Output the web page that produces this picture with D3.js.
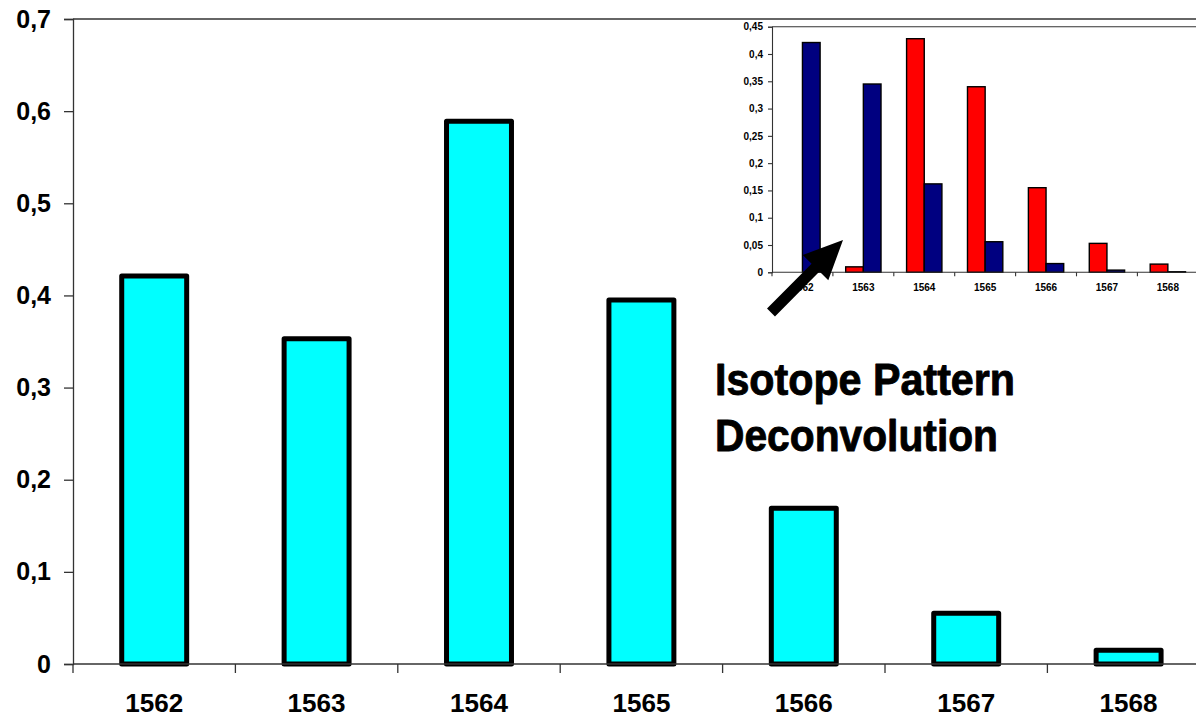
<!DOCTYPE html>
<html>
<head>
<meta charset="utf-8">
<script src="https://cdn.jsdelivr.net/npm/d3@7"></script>
<style>
  html, body { margin: 0; padding: 0; background: #fff; }
  svg { display: block; }
  text { font-family: "Liberation Sans", Arial, sans-serif; font-weight: bold; fill: #000; }
</style>
</head>
<body>
<svg id="chart" width="1196" height="718"></svg>
<script>
// ---- data ----
const categories = ["1562", "1563", "1564", "1565", "1566", "1567", "1568"];
const mainValues = [0.421, 0.353, 0.589, 0.395, 0.169, 0.055, 0.015];
const mainTicks = [0, 0.1, 0.2, 0.3, 0.4, 0.5, 0.6, 0.7];

const insetSeries = ["red", "blue"];
const insetRed  = [0.0, 0.010, 0.428, 0.340, 0.155, 0.053, 0.015];
const insetBlue = [0.421, 0.345, 0.162, 0.056, 0.016, 0.004, 0.001];
const insetTicks = [0, 0.05, 0.1, 0.15, 0.2, 0.25, 0.3, 0.35, 0.4, 0.45];

const titleLines = ["Isotope Pattern", "Deconvolution"];

// ---- helpers ----
const fmt = v => String(+v.toFixed(2)).replace(".", ",");
const svg = d3.select("#chart");

// ================= MAIN CHART =================
const mLeft = 73, mTop = 19, mBottom = 664, mStep = 162.4;
const xMain = d3.scaleBand().domain(categories)
  .range([mLeft, mLeft + mStep * categories.length])
  .paddingInner(0.6).paddingOuter(0.3);
const yMain = d3.scaleLinear().domain([0, 0.7]).range([mBottom, mTop]);

const main = svg.append("g");
main.append("line").attr("x1", mLeft).attr("x2", 1196)
  .attr("y1", mTop).attr("y2", mTop).attr("stroke", "#333").attr("stroke-width", 1.3);

main.selectAll("rect.bar").data(categories).join("rect")
  .attr("class", "bar")
  .attr("x", d => xMain(d))
  .attr("width", xMain.bandwidth())
  .attr("y", (d, i) => yMain(mainValues[i]))
  .attr("height", (d, i) => mBottom - yMain(mainValues[i]))
  .attr("fill", "#00FFFF").attr("stroke", "#000").attr("stroke-width", 5)
  .attr("stroke-linejoin", "round");

const yAxisMain = d3.axisLeft(yMain).tickValues(mainTicks).tickFormat(fmt).tickSize(9).tickPadding(13);
const gy = main.append("g").attr("transform", `translate(${mLeft},0)`).call(yAxisMain);
gy.select(".domain").attr("stroke", "#333").attr("stroke-width", 1.3);
gy.selectAll(".tick line").attr("stroke", "#333").attr("stroke-width", 1.3);
gy.selectAll(".tick text").style("font-size", "25px").style("font-weight", "bold")
  .style("font-family", "'Liberation Sans', Arial, sans-serif").attr("fill", "#000");

main.append("line").attr("x1", mLeft).attr("x2", 1196)
  .attr("y1", mBottom).attr("y2", mBottom).attr("stroke", "#333").attr("stroke-width", 1.3);
const boundsMain = categories.map(c => xMain(c) - xMain.step() * xMain.paddingInner() / 2);
main.selectAll("line.xtick").data(boundsMain).join("line").attr("class", "xtick")
  .attr("x1", d => d).attr("x2", d => d).attr("y1", mBottom).attr("y2", mBottom + 9)
  .attr("stroke", "#333").attr("stroke-width", 1.3);
main.selectAll("text.xlab").data(categories).join("text").attr("class", "xlab")
  .attr("x", d => xMain(d) + xMain.bandwidth() / 2).attr("y", 712)
  .attr("text-anchor", "middle").style("font-size", "25px")
  .attr("textLength", 58).attr("lengthAdjust", "spacingAndGlyphs").text(d => d);

// ================= INSET CHART =================
const iLeft = 772, iTop = 26.7, iBottom = 272.3, iStep = 60.9;
const xIn = d3.scaleBand().domain(categories)
  .range([iLeft, iLeft + iStep * categories.length])
  .paddingInner(0.42).paddingOuter(0.21);
const xSub = d3.scaleBand().domain(insetSeries).range([0, xIn.bandwidth()]);
const yIn = d3.scaleLinear().domain([0, 0.45]).range([iBottom, iTop]);
const inset = svg.append("g");

inset.append("line").attr("x1", iLeft).attr("x2", 1196)
  .attr("y1", iTop).attr("y2", iTop).attr("stroke", "#333").attr("stroke-width", 1.1);

const insetData = [];
categories.forEach((c, i) => {
  insetData.push({ cat: c, s: "red", v: insetRed[i] });
  insetData.push({ cat: c, s: "blue", v: insetBlue[i] });
});
const colors = { red: "#FF0000", blue: "#000080" };
inset.selectAll("rect.ibar").data(insetData).join("rect").attr("class", "ibar")
  .attr("x", d => xIn(d.cat) + xSub(d.s))
  .attr("width", xSub.bandwidth())
  .attr("y", d => yIn(d.v))
  .attr("height", d => iBottom - yIn(d.v))
  .attr("fill", d => colors[d.s]).attr("stroke", "#000").attr("stroke-width", 1.4);

const yAxisIn = d3.axisLeft(yIn).tickValues(insetTicks).tickFormat(fmt).tickSize(4).tickPadding(5);
const giy = inset.append("g").attr("transform", `translate(${iLeft},0)`).call(yAxisIn);
giy.select(".domain").attr("stroke", "#333").attr("stroke-width", 1.1);
giy.selectAll(".tick line").attr("stroke", "#333").attr("stroke-width", 1.1);
giy.selectAll(".tick text").style("font-size", "10px").style("font-weight", "bold")
  .style("font-family", "'Liberation Sans', Arial, sans-serif").attr("fill", "#222");

inset.append("line").attr("x1", iLeft).attr("x2", 1196)
  .attr("y1", iBottom).attr("y2", iBottom).attr("stroke", "#333").attr("stroke-width", 1.1);
const boundsIn = categories.map(c => xIn(c) - xIn.step() * xIn.paddingInner() / 2);
inset.selectAll("line.ixtick").data(boundsIn).join("line").attr("class", "ixtick")
  .attr("x1", d => d).attr("x2", d => d).attr("y1", iBottom).attr("y2", iBottom + 4)
  .attr("stroke", "#333").attr("stroke-width", 1.1);
inset.selectAll("text.ixlab").data(categories).join("text").attr("class", "ixlab")
  .attr("x", d => xIn(d) + xIn.bandwidth() / 2).attr("y", 291)
  .attr("text-anchor", "middle").style("font-size", "10px").attr("fill", "#222").text(d => d);

// ================= ARROW =================
(function () {
  const tail = [771, 312.5], tip = [843, 240];
  const dx = tip[0] - tail[0], dy = tip[1] - tail[1];
  const len = Math.hypot(dx, dy);
  const ux = dx / len, uy = dy / len, nx = -uy, ny = ux;
  const headLen = 39, headHalf = 18, shaftHalf = 5.6;
  const bx = tip[0] - ux * headLen, by = tip[1] - uy * headLen;
  const pts = [
    [tail[0] + nx * shaftHalf, tail[1] + ny * shaftHalf],
    [bx + nx * shaftHalf, by + ny * shaftHalf],
    [bx + nx * headHalf, by + ny * headHalf],
    tip,
    [bx - nx * headHalf, by - ny * headHalf],
    [bx - nx * shaftHalf, by - ny * shaftHalf],
    [tail[0] - nx * shaftHalf, tail[1] - ny * shaftHalf]
  ];
  svg.append("polygon").attr("points", pts.map(p => p.join(",")).join(" ")).attr("fill", "#000");
})();

// ================= TITLE =================
const titleWidths = [300, 283];
svg.selectAll("text.title").data(titleLines).join("text").attr("class", "title")
  .attr("x", 715).attr("y", (d, i) => 395 + i * 56)
  .style("font-family", "'Liberation Sans', Arial, sans-serif")
  .style("font-size", "44px").style("font-weight", "bold")
  .attr("stroke", "#000").attr("stroke-width", 0.9).attr("stroke-linejoin", "round")
  .attr("textLength", (d, i) => titleWidths[i]).attr("lengthAdjust", "spacingAndGlyphs")
  .text(d => d);
</script>
</body>
</html>
